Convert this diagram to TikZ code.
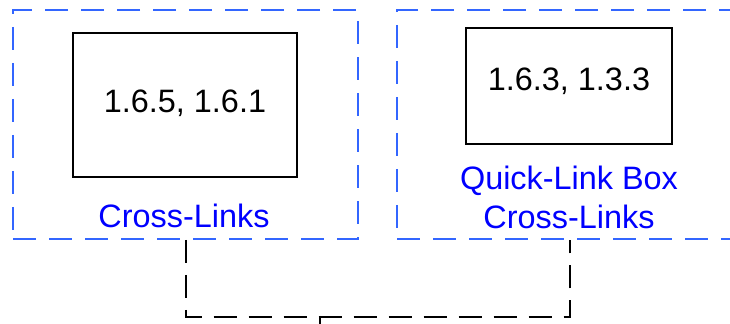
\documentclass[tikz,border=0pt]{standalone}
\usepackage{fontspec}
\setmainfont{Liberation Sans}
\tikzset{>=latex}
\definecolor{grpblue}{RGB}{51,102,255}
\definecolor{lblblue}{RGB}{0,0,255}
\tikzset{
	group/.style={draw=grpblue,line width=1pt,dash pattern=on 11.5pt off 6.5pt,inner sep=0pt},
	item/.style={draw,line width=1pt,inner sep=0pt},
	lbl/.style={text=lblblue,font=\fontsize{16.2pt}{19.5pt}\selectfont,align=center},
	conn/.style={line width=1pt,dash pattern=on 11.5pt off 6pt}
}

\begin{document}
\begin{tikzpicture}[x=0.5pt,y=-0.5pt]
	\useasboundingbox (0,0) rectangle (730,324);
	\clip (0,0) rectangle (730,324);

	\node[group,minimum width=345*0.5pt,minimum height=229*0.5pt] (grpA) at (185.5,124.5) {};
	\node[group,minimum width=346*0.5pt,minimum height=229*0.5pt] (grpB) at (570,124.5) {};

	\node[item,minimum width=224*0.5pt,minimum height=144*0.5pt] (boxA) at (185,105) {};
	\node[font=\fontsize{16.2pt}{19pt}\selectfont] at (185,103) {1.6.5, 1.6.1};
	\node[item,minimum width=206*0.5pt,minimum height=116*0.5pt] (boxB) at (569,86) {};
	\node[font=\fontsize{16.2pt}{19pt}\selectfont] at (569,81) {1.6.3, 1.3.3};

	\node[lbl] (lblA) at (184,216) {Cross-Links};
	\node[lbl] (lblB) at (569,197) {Quick-Link Box\\Cross-Links};

	\coordinate (join) at (320,316);
	\coordinate (out) at (320,330);
	\draw[conn] (grpA.south) -- ++(0,77) -| (grpB.south);
	\draw[line width=1pt] (join) -- (out);

\end{tikzpicture}
\end{document}
